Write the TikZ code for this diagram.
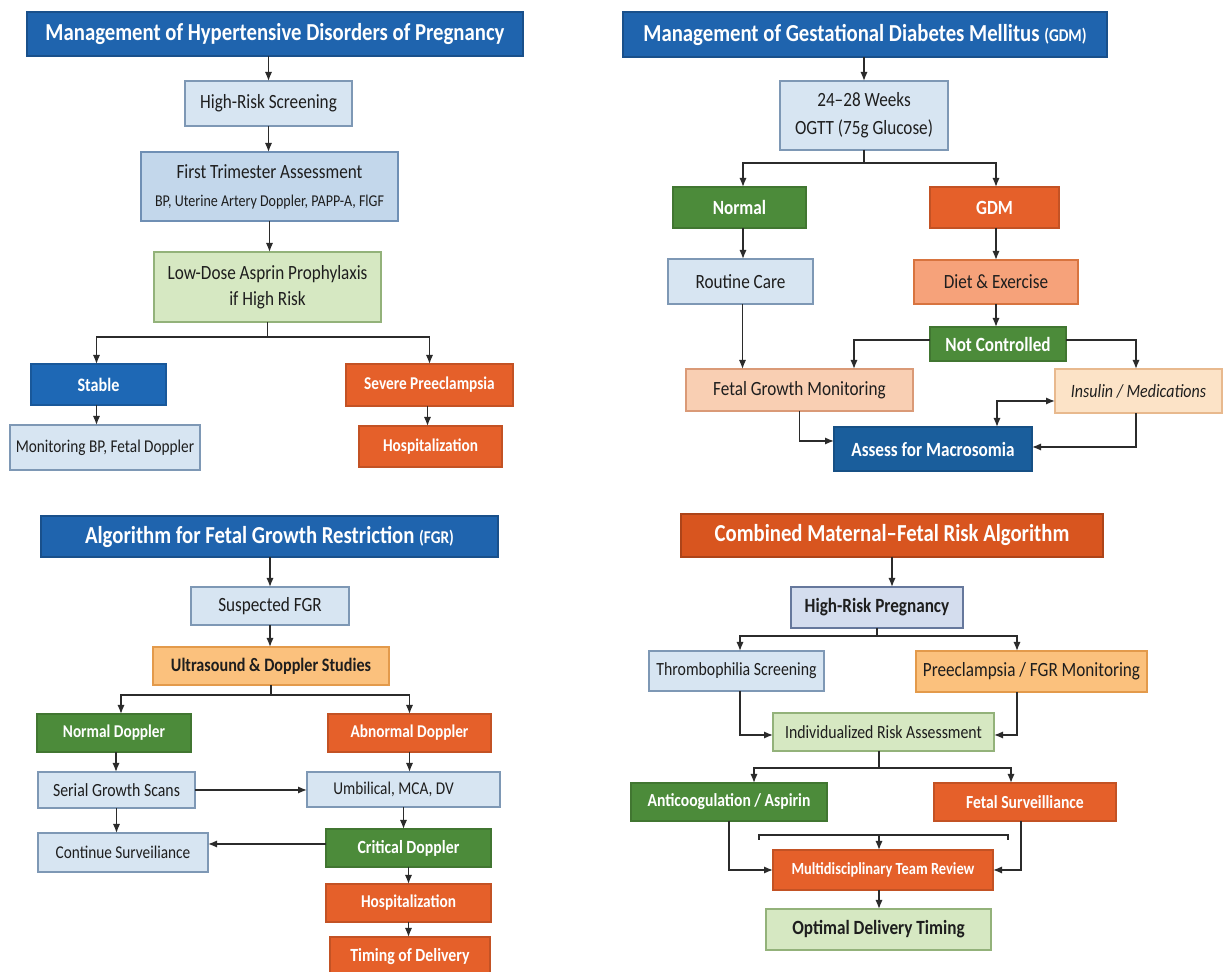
\documentclass[tikz,border=0pt]{standalone}
\usepackage{fontspec}
\setmainfont{Carlito}[FakeStretch=0.85]
\usetikzlibrary{arrows.meta}
\definecolor{tblue}{HTML}{1F64AE}
\definecolor{torange}{HTML}{D8551F}
\definecolor{nblue}{HTML}{1E68B5}
\definecolor{dblue}{HTML}{1A5E9C}
\definecolor{orng}{HTML}{E5602A}
\definecolor{grn}{HTML}{4C8B3A}
\definecolor{lbfill}{HTML}{D7E5F2}
\definecolor{lbdraw}{HTML}{7E98B5}
\definecolor{mbfill}{HTML}{C3D7EB}
\definecolor{mbdraw}{HTML}{6F8FB4}
\definecolor{lgfill}{HTML}{D6E8C2}
\definecolor{lgdraw}{HTML}{93B27A}
\definecolor{salm}{HTML}{F6A27A}
\definecolor{salmdraw}{HTML}{D8743F}
\definecolor{peach}{HTML}{F9CFB3}
\definecolor{peachdraw}{HTML}{DA9A77}
\definecolor{lpeach}{HTML}{FCE3C7}
\definecolor{lpeachdraw}{HTML}{E8B98E}
\definecolor{lorange}{HTML}{FBC17D}
\definecolor{lorangedraw}{HTML}{E39A4B}
\definecolor{bgray}{HTML}{D4DDEE}
\definecolor{bgraydraw}{HTML}{66789C}
\definecolor{arrc}{HTML}{2B2B2B}
\definecolor{txtdark}{HTML}{1E1E1E}
\newcommand{\bx}[7]{\node[#6, minimum width={0.5pt*(#4-#2)}, minimum height={0.5pt*(#5-#3)}] (#1) at ({(#2+#4)/2},{(#3+#5)/2}) {#7};}
\begin{document}
\begin{tikzpicture}[x=0.5pt,y=-0.5pt,
  base/.style={rectangle, inner sep=1pt, outer sep=0pt, align=center, line width=0.6pt, text=txtdark, font=\fontsize{10.1}{12}\selectfont},
  ttl/.style={base, fill=#1, draw=#1!80!black, text=white, font=\fontsize{12.2}{14}\selectfont\bfseries},
  solid/.style={base, fill=#1, draw=#1!85!black, text=white, font=\fontsize{9.5}{11}\selectfont\bfseries},
  light/.style 2 args={base, fill=#1, draw=#2},
  ln/.style={draw=arrc, line width=0.7pt},
  arr/.style={ln, -{Latex[length=4.5pt,width=3.6pt]}},
  arrtwo/.style={ln, {Latex[length=4.5pt,width=3.6pt]}-{Latex[length=4.5pt,width=3.6pt]}}
]
\useasboundingbox[fill=white] (0,0) rectangle (1223,972);

% ---------------- Q1 ----------------
\bx{t1}{27}{12}{523}{56}{ttl=tblue}{Management of Hypertensive Disorders of Pregnancy}
\bx{hrs}{185}{81}{352}{126}{light={lbfill}{lbdraw}}{High-Risk Screening}
\bx{fta}{141}{152}{398}{221}{light={mbfill}{mbdraw}}{First Trimester Assessment\\[2pt]{\fontsize{8.25}{10}\selectfont BP, Uterine Artery Doppler, PAPP-A, FlGF}}
\bx{lda}{154}{252}{381}{322}{light={lgfill}{lgdraw}}{Low-Dose Asprin Prophylaxis\\[1pt]if High Risk}
\bx{stb}{31}{364}{166}{405}{solid=nblue}{Stable}
\bx{sev}{346}{364}{513}{406}{solid=orng, font=\fontsize{9}{10}\selectfont\bfseries}{Severe Preeclampsia}
\bx{mon}{10}{425}{200}{470}{light={lbfill}{lbdraw}, font=\fontsize{9}{10}\selectfont}{Monitoring BP, Fetal Doppler}
\bx{hosa}{359}{426}{502}{467}{solid=orng, font=\fontsize{9}{10}\selectfont\bfseries}{Hospitalization}

\draw[arr] (t1.south -| hrs.north) -- (hrs.north);
\draw[arr] (hrs.south) -- (hrs.south |- fta.north);
\draw[arr] (fta.south) -- (fta.south |- lda.north);
\draw[arr] (lda.south) -- ++(0,15) -| ([xshift=-1pt]stb.north);
\draw[arr] (lda.south) ++(0,15) -| (sev.north);
\draw[arr] ([xshift=-1pt]stb.south) -- ([xshift=-1pt]stb.south |- mon.north);
\draw[arr] ([xshift=-1pt]sev.south) -- ([xshift=-1pt]sev.south |- hosa.north);

% ---------------- Q2 ----------------
\bx{t2}{623}{12}{1107}{57}{ttl=tblue}{Management of Gestational Diabetes Mellitus {\fontsize{9}{10}\selectfont (GDM)}}
\bx{ogtt}{780}{81}{948}{150}{light={lbfill}{lbdraw}}{24–28 Weeks\\[2pt]OGTT (75g Glucose)}
\bx{nor}{673}{187}{806}{228}{solid=grn, font=\fontsize{10.1}{11}\selectfont\bfseries}{Normal}
\bx{gdm}{930}{187}{1059}{228}{solid=orng, font=\fontsize{10.1}{11}\selectfont\bfseries}{GDM}
\bx{rc}{668}{259}{813}{304}{light={lbfill}{lbdraw}}{Routine Care}
\bx{de}{914}{260}{1078}{304}{light={salm}{salmdraw}}{Diet \& Exercise}
\bx{nc}{930}{327}{1066}{361}{solid=grn, font=\fontsize{10.1}{11}\selectfont\bfseries}{Not Controlled}
\bx{fgm}{686}{369}{913}{411}{light={peach}{peachdraw}}{Fetal Growth Monitoring}
\bx{ins}{1055}{369}{1222}{413}{light={lpeach}{lpeachdraw}, font=\fontsize{9.4}{11}\selectfont\itshape}{Insulin / Medications}
\bx{afm}{834}{427}{1032}{471}{solid=dblue, font=\fontsize{10.1}{11}\selectfont\bfseries}{Assess for Macrosomia}

\draw[arr] (t2.south -| ogtt.north) -- (ogtt.north);
\draw[arr] (ogtt.south) -- ++(0,13) -| ([xshift=1.75pt]nor.north);
\draw[arr] (ogtt.south) ++(0,13) -| ([xshift=0.75pt]gdm.north);
\draw[arr] ([xshift=1.75pt]nor.south) -- ([xshift=1.75pt]nor.south |- rc.north);
\draw[arr] ([xshift=0.75pt]gdm.south) -- ([xshift=0.75pt]gdm.south |- de.north);
\draw[arr] (de.south) -- (de.south |- nc.north);
\draw[arr] ([yshift=2pt]nc.west) -| ([xshift=27.25pt]fgm.north);
\draw[arr] ([yshift=2pt]nc.east) -| ([xshift=-1.25pt]ins.north);
\draw[arr] ([xshift=1pt]rc.south) -- ([xshift=1pt]rc.south |- fgm.north);
\draw[arr] (fgm.south) |- ([yshift=4pt]afm.west);
\draw[arr] ([xshift=-1.25pt]ins.south) |- ([yshift=1pt]afm.east);
\draw[arrtwo] ([xshift=32pt]afm.north) |- ([yshift=-5pt]ins.west);

% ---------------- Q3 ----------------
\bx{t3}{41}{516}{498}{557}{ttl=tblue}{Algorithm for Fetal Growth Restriction {\fontsize{9}{10}\selectfont (FGR)}}
\bx{sfgr}{191}{587}{349}{625}{light={lbfill}{lbdraw}}{Suspected FGR}
\bx{uds}{153}{647}{389}{685}{light={lorange}{lorangedraw}, font=\fontsize{9.5}{11}\selectfont\bfseries}{Ultrasound \& Doppler Studies}
\bx{nd}{37}{714}{191}{752}{solid=grn, font=\fontsize{9}{10}\selectfont\bfseries}{Normal Doppler}
\bx{ad}{328}{714}{491}{752}{solid=orng, font=\fontsize{9}{10}\selectfont\bfseries}{Abnormal Doppler}
\bx{sgs}{38}{772}{195}{808}{light={lbfill}{lbdraw}, font=\fontsize{9.3}{10}\selectfont}{Serial Growth Scans}
\bx{umd}{307}{772}{500}{807}{light={lbfill}{lbdraw}, font=\fontsize{9}{10}\selectfont}{Umbilical, MCA, DV\hspace*{10pt}}
\bx{cs}{38}{833}{208}{872}{light={lbfill}{lbdraw}, font=\fontsize{9}{10}\selectfont}{Continue Surveiliance}
\bx{cd}{326}{829}{491}{867}{solid=grn, font=\fontsize{9.3}{10}\selectfont\bfseries}{Critical Doppler}
\bx{hosb}{326}{884}{491}{922}{solid=orng, font=\fontsize{9}{10}\selectfont\bfseries}{Hospitalization}
\bx{tod}{330}{937}{490}{977}{solid=orng, font=\fontsize{9.3}{10}\selectfont\bfseries}{Timing of Delivery}

\draw[arr] (t3.south -| sfgr.north) -- (sfgr.north);
\draw[arr] (sfgr.south) -- (sfgr.south |- uds.north);
\draw[arr] (uds.south) -- ++(0,10) -| ([xshift=3.5pt]nd.north);
\draw[arr] (uds.south) ++(0,10) -| (ad.north);
\draw[arr] ([xshift=1pt]nd.south) -- ([xshift=1pt]nd.south |- sgs.north);
\draw[arr] (ad.south) -- (ad.south |- umd.north);
\draw[arr] (sgs.east) -- (sgs.east -| umd.west);
\draw[arr] (sgs.south) -- (sgs.south |- cs.north);
\draw[arr] (umd.south) -- (umd.south |- cd.north);
\draw[arr] ([yshift=2pt]cd.west) -- ([yshift=2pt]cd.west -| cs.east);
\draw[arr] (cd.south) -- (hosb.north);
\draw[arr] (hosb.south) -- (hosb.south |- tod.north);

% ---------------- Q4 ----------------
\bx{t4}{681}{514}{1103}{557}{ttl=torange}{Combined Maternal–Fetal Risk Algorithm}
\bx{hrp}{791}{587}{963}{628}{light={bgray}{bgraydraw}, font=\fontsize{10.1}{11}\selectfont\bfseries}{High-Risk Pregnancy}
\bx{ths}{649}{651}{824}{691}{light={lbfill}{lbdraw}, font=\fontsize{9.3}{10}\selectfont}{Thrombophilia Screening}
\bx{pfm}{916}{651}{1147}{692}{light={lorange}{lorangedraw}}{Preeclampsia / FGR Monitoring}
\bx{ira}{773}{713}{994}{751}{light={lgfill}{lgdraw}, font=\fontsize{9.3}{10}\selectfont}{Individualized Risk Assessment}
\bx{aca}{631}{783}{827}{821}{solid=grn, font=\fontsize{9.2}{10}\selectfont\bfseries}{Anticoogulation / Aspirin}
\bx{fsv}{934}{783}{1116}{821}{solid=orng, font=\fontsize{9.2}{10}\selectfont\bfseries}{Fetal Surveilliance}
\bx{mtr}{773}{850}{993}{890}{solid=orng, font=\fontsize{8.5}{10}\selectfont\bfseries}{Multidisciplinary Team Review}
\bx{odt}{766}{909}{991}{950}{light={lgfill}{lgdraw}, font=\fontsize{10.1}{11}\selectfont\bfseries}{Optimal Delivery Timing}

\draw[arr] (t4.south) -- (t4.south |- hrp.north);
\draw[arr] (hrp.south) -- ++(0,8) -| ([xshift=1.75pt]ths.north);
\draw[arr] (hrp.south) ++(0,8) -| ([xshift=-7.25pt]pfm.north);
\draw[arr] ([xshift=1.75pt]ths.south) |- ([yshift=-1.5pt]ira.west);
\draw[arr] ([xshift=-7.25pt]pfm.south) |- ([yshift=-1.5pt]ira.east);
\draw[arr] ([xshift=-2.25pt]ira.south) -- ++(0,17) -| ([xshift=12.5pt]aca.north);
\draw[arr] ([xshift=-2.25pt]ira.south) ++(0,17) -| ([xshift=-7pt]fsv.north);
\draw[arr] (aca.south) |- (mtr.west);
\draw[arr] ([xshift=-2pt]fsv.south) |- (mtr.east);
\coordinate (bra) at (759,840);
\coordinate (brb) at (759,835);
\coordinate (brc) at (1008,835);
\coordinate (brd) at (1008,840);
\coordinate (brm) at (879,835);
\draw[ln] (bra) -- (brb) -- (brc) -- (brd);
\draw[arr] (brm) -- (mtr.north -| brm);
\draw[arr] ([xshift=-2pt]mtr.south) -- ([xshift=-2pt]mtr.south |- odt.north);
\end{tikzpicture}
\end{document}
